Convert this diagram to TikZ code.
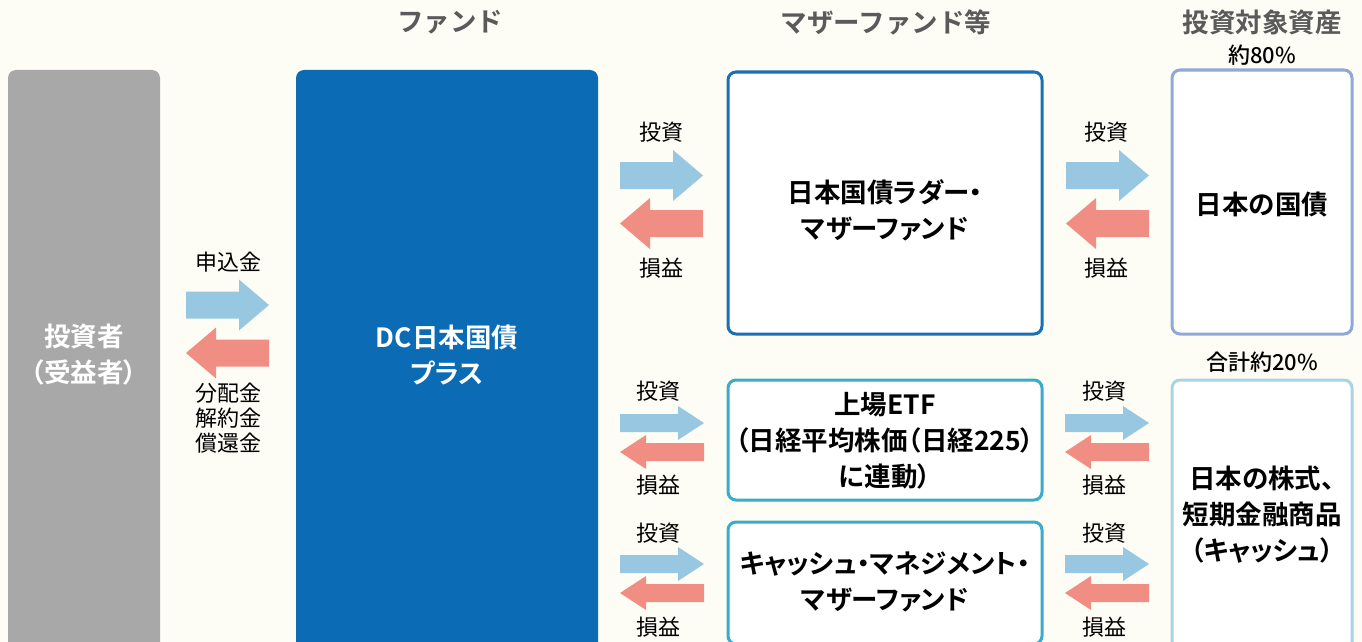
\documentclass[tikz,border=0pt]{standalone}
\usepackage{fontspec}
\setmainfont{Noto Sans CJK JP}[BoldFont={Noto Sans CJK JP Bold}]
\newfontfamily\boxfont{Noto Sans CJK JP Bold}[RawFeature={+palt}]
\newfontfamily\sharefont{Noto Sans CJK JP Medium}

\definecolor{bgcream}{RGB}{253,253,245}
\definecolor{investgray}{RGB}{167,168,167}
\definecolor{fundblue}{RGB}{11,108,181}
\definecolor{motherblue}{RGB}{26,111,181}
\definecolor{motherteal}{RGB}{58,171,200}
\definecolor{assetlav}{RGB}{143,168,216}
\definecolor{assetsky}{RGB}{168,212,228}
\definecolor{inflow}{RGB}{152,199,225}
\definecolor{outflow}{RGB}{241,142,131}
\definecolor{headgray}{RGB}{90,90,90}

% block arrow: colour, tail x, tip x, y, half body, half head, head length
\newcommand{\blockarrow}[7]{%
  \fill[#1] (#2,#4-#5) -- ({#3-#7},#4-#5) -- ({#3-#7},#4-#6) -- (#3,#4)
    -- ({#3-#7},#4+#6) -- ({#3-#7},#4+#5) -- (#2,#4+#5) -- cycle;}
\newcommand{\bigpair}[4]{%
  \blockarrow{inflow}{#1}{#2}{#3}{13.5}{25.5}{30}
  \blockarrow{outflow}{#2}{#1}{#4}{13.5}{25.5}{-30}}
\newcommand{\smallpair}[4]{%
  \blockarrow{inflow}{#1}{#2}{#3}{9}{17}{26}
  \blockarrow{outflow}{#2}{#1}{#4}{9}{17}{-26}}

\begin{document}
\begin{tikzpicture}[x=1pt,y=-1pt]
  \tikzset{
    bigbox/.style={rounded corners=8pt,minimum width=#1,inner sep=0pt},
    solidbox/.style={bigbox=#1},
    framebox/.style={bigbox=#1,draw,line width=3pt,fill=white},
    boxtext/.style={align=center,inner sep=0pt,font=\boxfont\fontsize{26.5}{36}\selectfont},
    header/.style={font=\bfseries\fontsize{26.5}{30}\selectfont,text=headgray},
    flowlabel/.style={font=\fontsize{22}{25}\selectfont,align=center},
    share/.style={font=\sharefont\fontsize{22}{24}\selectfont}
  }
  \useasboundingbox (0,0) rectangle (1362,642);
  \clip (0,0) rectangle (1362,642);
  \fill[bgcream] (0,0) rectangle (1362,642);

  % column heads
  \node[header] (hfund)   at (450,22)  {ファンド};
  \node[header] (hmother) at (886,22)  {マザーファンド等};
  \node[header] (hasset)  at (1262,22) {投資対象資産};

  % investor and fund
  \node[solidbox=152pt,fill=investgray,minimum height=580pt] (investor) at (84,360) {};
  \node[boxtext,text=white] (investortext) at (84,355) {投資者\\（受益者）};
  \node[solidbox=302pt,fill=fundblue,minimum height=580pt] (fund) at (447,360) {};
  \node[boxtext,text=white] (fundtext) at (447,355) {DC日本国債\\プラス};

  % mother funds
  \node[framebox=314pt,draw=motherblue,minimum height=262pt] (ladder) at (885,203) {};
  \node[boxtext] (laddertext) at (885,210) {日本国債ラダー・\\マザーファンド};
  \node[framebox=314pt,draw=motherteal,minimum height=120pt] (etf) at (885,440) {};
  \node[boxtext] (etftext) at (885,441) {上場ETF\\（日経平均株価（日経225）\\に連動）};
  \node[framebox=314pt,draw=motherteal,minimum height=122pt] (cash) at (885,583) {};
  \node[boxtext] (cashtext) at (885,582) {キャッシュ・マネジメント・\\マザーファンド};

  % assets
  \node[framebox=180pt,draw=assetlav,minimum height=264pt] (jgb) at (1262,202) {};
  \node[boxtext] (jgbtext) at (1262,205) {日本の国債};
  \node[framebox=180pt,draw=assetsky,minimum height=270pt] (equity) at (1262,515) {};
  \node[boxtext] (equitytext) at (1262,515) {日本の株式、\\短期金融商品\\（キャッシュ）};
  \node[share] (jgbshare) at (1262,55)  {約80\%};
  \node[share] (eqshare)  at (1262,362) {合計約20\%};

  % flows
  \bigpair{186}{269}{305}{353}
  \node[flowlabel] (subscribe) at (228,262) {申込金};
  \node[flowlabel] (payout)    at (228,418) {分配金\\解約金\\償還金};

  \bigpair{620}{703}{175.5}{223.5}
  \bigpair{1066}{1149}{175.5}{223.5}
  \node[flowlabel] (inv1)  at (661,132)  {投資};
  \node[flowlabel] (ret1)  at (661,268)  {損益};
  \node[flowlabel] (inv1r) at (1106,132) {投資};
  \node[flowlabel] (ret1r) at (1106,268) {損益};

  \smallpair{620}{704}{423}{452}
  \smallpair{1065}{1149}{423}{452}
  \node[flowlabel] (inv2)  at (658,391)  {投資};
  \node[flowlabel] (ret2)  at (658,485)  {損益};
  \node[flowlabel] (inv2r) at (1104,391) {投資};
  \node[flowlabel] (ret2r) at (1104,485) {損益};

  \smallpair{620}{704}{564}{593}
  \smallpair{1065}{1149}{564}{593}
  \node[flowlabel] (inv3)  at (658,533)  {投資};
  \node[flowlabel] (ret3)  at (658,627)  {損益};
  \node[flowlabel] (inv3r) at (1104,533) {投資};
  \node[flowlabel] (ret3r) at (1104,627) {損益};
\end{tikzpicture}
\end{document}
